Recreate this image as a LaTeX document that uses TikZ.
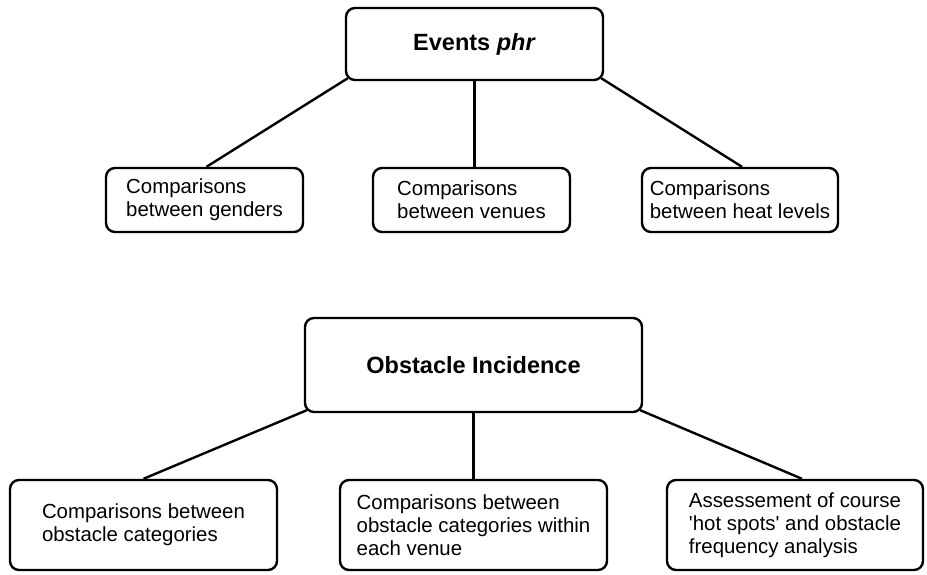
\documentclass[tikz,border=0pt]{standalone}
\usepackage{fontspec}
\setmainfont{Liberation Sans}
\begin{document}
\begin{tikzpicture}[x=1pt,y=-1pt,
  box/.style={draw, rounded corners=9pt, line width=2.4pt, inner sep=0pt, align=left,
    font=\fontsize{20.4}{23}\selectfont},
  headbox/.style={box, font=\fontsize{23.5}{26}\selectfont\bfseries},
  link/.style={line width=2.4pt}]
\useasboundingbox (0,0) rectangle (927,574);
% top tree
\node[headbox, minimum width=257pt, minimum height=72pt] (ev) at (474.5,44) {Events \textit{phr}};
\node[box, minimum width=197pt, minimum height=64pt] (c1) at (204.5,200) {Comparisons\\between genders};
\node[box, minimum width=197pt, minimum height=64pt] (c2) at (471.5,200) {Comparisons\\between venues};
\node[box, minimum width=196pt, minimum height=64pt] (c3) at (740,200) {Comparisons\\between heat levels};
\draw[link] ([shift={(3,-3)}]ev.south west) -- ([xshift=2pt]c1.north);
\draw[link] (ev.south) -- (ev.south |- c2.north);
\draw[link] ([shift={(-3,-3)}]ev.south east) -- ([xshift=2pt]c3.north);
% bottom tree
\node[headbox, minimum width=337pt, minimum height=94pt] (ob) at (473.5,365) {Obstacle Incidence};
\node[box, minimum width=267pt, minimum height=90pt] (b1) at (143.5,525) {Comparisons between\\obstacle categories};
\node[box, minimum width=267pt, minimum height=90pt] (b2) at (473.5,525) {Comparisons between\\obstacle categories within\\each venue};
\node[box, minimum width=256pt, minimum height=90pt] (b3) at (795,525) {Assessement of course\\\textquotesingle hot spots\textquotesingle{} and obstacle\\frequency analysis};
\draw[link] ([shift={(3,-3)}]ob.south west) -- (b1.north);
\draw[link] (ob.south) -- (ob.south |- b2.north);
\draw[link] ([shift={(-3,-3)}]ob.south east) -- ([xshift=7pt]b3.north);
\end{tikzpicture}
\end{document}
